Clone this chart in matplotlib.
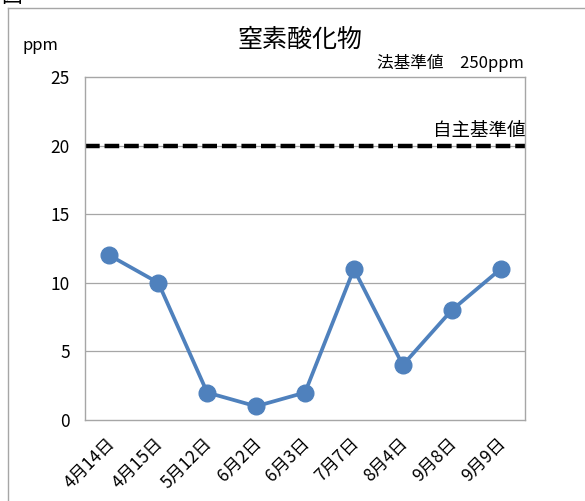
import matplotlib
matplotlib.use("Agg")
import matplotlib.pyplot as plt
from matplotlib.lines import Line2D
from matplotlib.transforms import ScaledTranslation

plt.rcParams['font.family'] = ['Noto Sans CJK JP', 'DejaVu Sans']

categories = ["4月14日", "4月15日", "5月12日", "6月2日", "6月3日", "7月7日", "8月4日", "9月8日", "9月9日"]
values = [12, 10, 2, 1, 2, 11, 4, 8, 11]
self_standard = 20
yticks = [0, 5, 10, 15, 20, 25]

fig = plt.figure(figsize=(5.85, 5.01), dpi=100)
W, H = 585, 501
ax = fig.add_axes([85 / W, 1 - 420 / H, (525 - 85) / W, (420 - 77) / H])

x = list(range(len(categories)))
ax.plot(x, values, color='#4F81BD', linewidth=2.7, marker='o', markersize=12,
        markerfacecolor='#4F81BD', markeredgecolor='#4F81BD', zorder=3, clip_on=False)
ax.axhline(self_standard, color='black', linewidth=3.2, linestyle=(0, (3.3, 1.1)), zorder=2)

ax.set_xlim(-0.5, len(categories) - 0.5)
ax.set_ylim(0, 25)
ax.set_yticks(yticks)
ax.set_yticklabels([str(v) for v in yticks], fontsize=12.5)
ax.set_xticks(x)
ax.set_xticklabels(categories, rotation=45, ha='right', va='top', fontsize=12.5,
                   rotation_mode='anchor')
ax.tick_params(axis='y', length=0, pad=11)
ax.tick_params(axis='x', length=0, pad=10)
shift = ScaledTranslation(-4 / 100, 0, fig.dpi_scale_trans)
for lbl in ax.get_xticklabels():
    lbl.set_transform(lbl.get_transform() + shift)
for v in yticks[1:-1]:
    ax.axhline(v, color='#A6A6A6', linewidth=0.9, zorder=1)
for s in ax.spines.values():
    s.set_color('#A6A6A6')
    s.set_linewidth(1.0)

fig.text(300 / W, 1 - 40 / H, "窒素酸化物", ha='center', va='center', fontsize=18)
fig.text(40 / W, 1 - 46 / H, "ppm", ha='center', va='center', fontsize=12)
fig.text(524 / W, 1 - 63 / H, "法基準値　250ppm", ha='right', va='center', fontsize=12)
fig.text(525 / W, 1 - 131 / H, "自主基準値", ha='right', va='center', fontsize=13.3)

# outer frame (top and left edges only visible)
fig.add_artist(Line2D([7.5 / W, 1.0], [1 - 7.5 / H, 1 - 7.5 / H], transform=fig.transFigure,
                      color='#A6A6A6', linewidth=1.0))
fig.add_artist(Line2D([7.5 / W, 7.5 / W], [0.0, 1 - 7.5 / H], transform=fig.transFigure,
                      color='#A6A6A6', linewidth=1.0))
fig.text(1 / W, 1 + 4 / H, "図", ha='left', va='center', fontsize=15)

fig.savefig("out.png", dpi=100)
